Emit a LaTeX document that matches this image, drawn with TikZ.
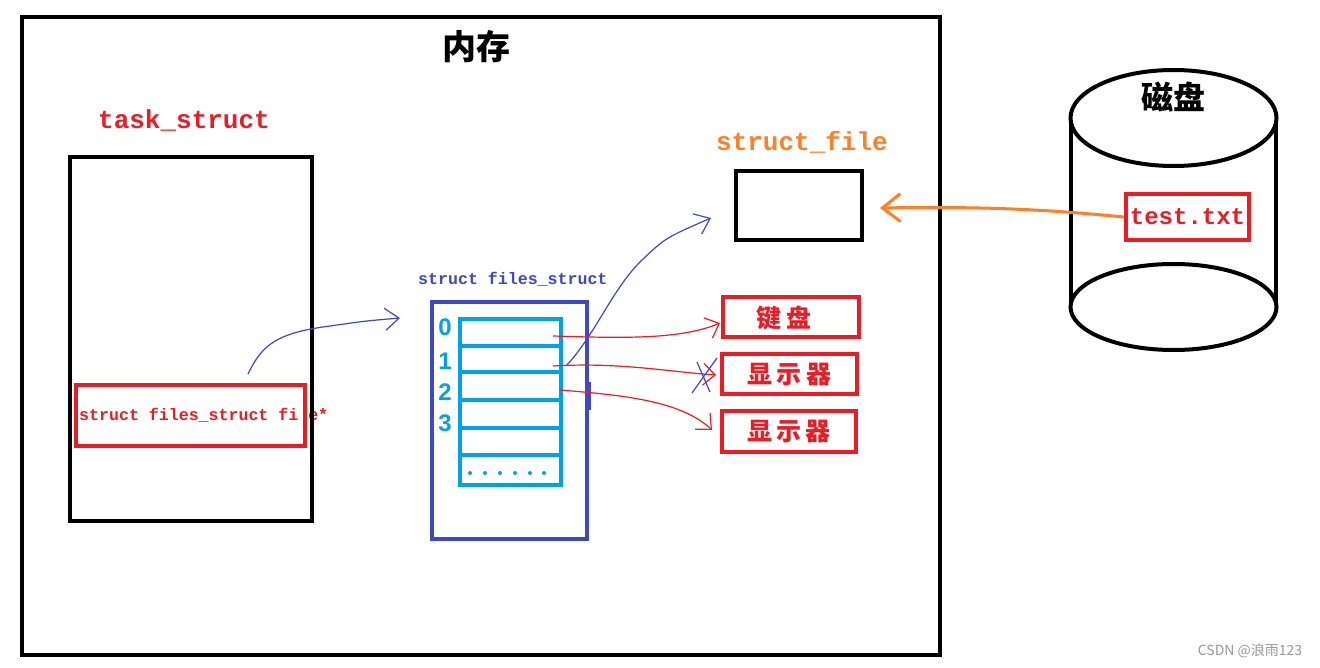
\documentclass[tikz,border=0pt]{standalone}
\usepackage{fontspec}
\setmainfont{Liberation Sans}
\newfontfamily\monof{Liberation Mono}
\newfontfamily\cjk{Noto Sans CJK SC}
\usetikzlibrary{arrows.meta}
\definecolor{pred}{HTML}{ED1C24}
\definecolor{pblue}{HTML}{3F48CC}
\definecolor{pcyan}{HTML}{00A2E8}
\definecolor{porange}{HTML}{FF7F27}
\tikzset{
  box/.style={draw, line width=4pt, inner sep=0pt, rectangle},
  blackbox/.style={box, draw=black},
  redbox/.style={box, draw=pred},
  monolabel/.style={font=\monof\bfseries\fontsize{26}{30}\selectfont, inner sep=0pt},
  smallmono/.style={font=\monof\bfseries\fontsize{16.6}{20}\selectfont, inner sep=0pt},
  cjkred/.style={text=pred, font=\cjk\bfseries\fontsize{25}{28}\selectfont},
  num/.style={text=pcyan, font=\bfseries\fontsize{24}{26}\selectfont, inner sep=0pt},
  bluecurve/.style={draw=pblue, line width=1.2pt, -{Straight Barb[length=14pt,width=22pt,line width=1.2pt]}},
  redcurve/.style={draw=pred, line width=1.2pt, -{Straight Barb[length=12pt,width=22pt,line width=1.2pt]}},
}
\begin{document}
\begin{tikzpicture}[x=1pt,y=-1pt]
\useasboundingbox (0,0) rectangle (1320,668);
\fill[white] (0,0) rectangle (1320,668);

% memory
\node[blackbox, minimum width=918pt, minimum height=638pt] (mem) at (481,336) {};
\node[font=\cjk\bfseries\fontsize{34}{38}\selectfont] (memlabel) at (476,47) {内存};

% task_struct
\node[monolabel, text=pred] (tasklabel) at (184,120) {task\_struct};
\node[smallmono, text=pred, anchor=west] (ptrtext) at (79,415) {struct files\_struct fi\hphantom{l}e*};
\node[blackbox, minimum width=242pt, minimum height=364pt] (task) at (191,339) {};
\node[redbox, minimum width=229pt, minimum height=61pt] (ptr) at (190.5,415.5) {};

% files_struct
\node[smallmono, text=pblue, anchor=west] (fslabel) at (418,279) {struct files\_struct};
\node[box, draw=pblue, minimum width=155pt, minimum height=237pt] (fs) at (509.5,420.5) {};
\node[box, draw=pcyan, minimum width=101pt, minimum height=166pt] (arr) at (510.5,402) {};
\foreach \yy in {346,372,400,428,455}{
  \draw[pcyan, line width=4pt] (arr.west |- 0,\yy) -- (arr.east |- 0,\yy);
}
\foreach \xx in {470,485,500,515,530,544}{
  \fill[pcyan] (\xx,473) circle (2pt);
}
\node[num] (n0) at (445,327) {0};
\node[num] (n1) at (445,361) {1};
\node[num] (n2) at (445,392) {2};
\node[num] (n3) at (445,423) {3};
\draw[pblue, line width=3pt] (589,382) -- (589,410);

% struct_file
\node[monolabel, text=porange] (sflabel) at (802,142) {struct\_file};
\node[blackbox, minimum width=126pt, minimum height=69pt] (sf) at (799,205.5) {};

% devices
\node[redbox, minimum width=136pt, minimum height=40pt] (kbd) at (791,317) {};
\node[cjkred] (kbdtext) at (784,318) {键\,盘};
\node[redbox, minimum width=135pt, minimum height=40pt, cjkred] (disp1) at (789.5,374) {显\,示\,器};
\node[redbox, minimum width=134pt, minimum height=41pt, cjkred] (disp2) at (789,431.5) {显\,示\,器};

% disk
\draw[line width=4pt] (1071,118) -- (1071,307);
\draw[line width=4pt] (1276,118) -- (1276,307);
\draw[line width=4pt, fill=white] (1173.5,307) ellipse [x radius=103pt, y radius=43pt];
\draw[line width=4pt, fill=white] (1173.5,118) ellipse [x radius=103pt, y radius=48pt];
\node[font=\cjk\bfseries\fontsize{32}{36}\selectfont] (disklabel) at (1173,97) {磁盘};
\node[redbox, minimum width=123pt, minimum height=46pt, text=pred, font=\monof\bfseries\fontsize{24}{28}\selectfont] (txt) at (1187.5,217) {test.txt};

% connectors
\coordinate (c1s) at (248,374);
\coordinate (c1e) at (400,318);
\draw[bluecurve] (c1s) .. controls (262,345) and (276,333) .. (330,326) .. controls (365,321) .. (c1e);

\coordinate (c2s) at (566,366);
\coordinate (c2e) at (711,218);
\draw[bluecurve] (c2s) .. controls (595,335) and (612,290) .. (640,262) .. controls (665,238) .. (c2e);

\coordinate (r1s) at (553,336);
\coordinate (r1e) at (720,323);
\draw[redcurve] (r1s) .. controls (620,338) and (680,340) .. (r1e);

\coordinate (r2s) at (553,366);
\coordinate (r2e) at (716,375);
\draw[redcurve] (r2s) .. controls (620,362) and (670,372) .. (r2e);

\coordinate (r3s) at (560,390);
\coordinate (r3e) at (712,430);
\draw[redcurve] (r3s) .. controls (620,395) and (680,400) .. (r3e);

% blue cross
\draw[pblue, line width=1.2pt] (697,362) -- (710,392);
\draw[pblue, line width=1.2pt] (717,358) -- (692,393);

% orange
\coordinate (os) at (txt.west);
\coordinate (oe) at (880,208);
\draw[porange, line width=3pt, -{Straight Barb[length=18pt,width=28pt,line width=3pt]}] (os) .. controls (1060,211) and (1000,206) .. (oe);

% watermark
\node[text=black!40, font=\cjk\fontsize{14}{16}\selectfont] (wm) at (1250,651) {CSDN @浪雨123};
\end{tikzpicture}
\end{document}
